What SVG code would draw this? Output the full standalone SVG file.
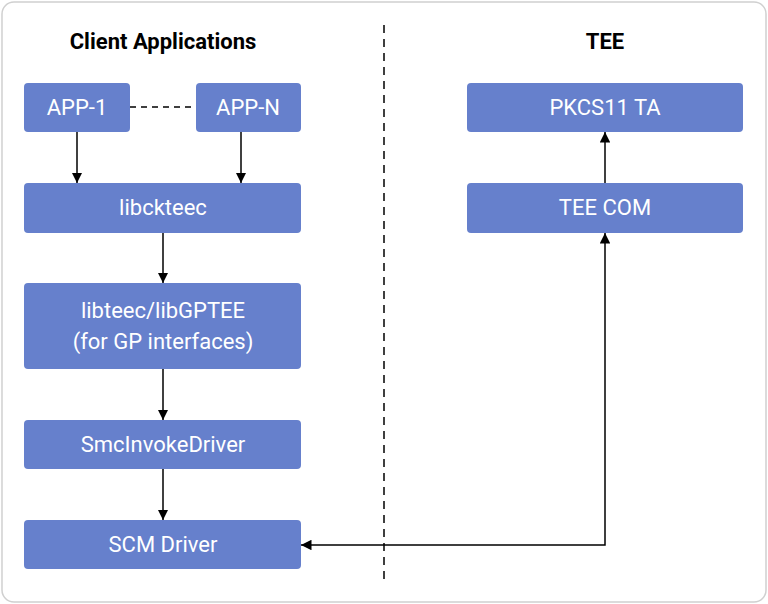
<svg xmlns="http://www.w3.org/2000/svg" width="768" height="604" viewBox="0 0 768 604">
<style>
.n{fill:#6680cc;}
.t{font-family:Roboto,"Liberation Sans",sans-serif;font-size:22px;fill:#fff;text-anchor:middle;}
.h{font-family:Roboto,"Liberation Sans",sans-serif;font-size:22px;font-weight:bold;fill:#000;text-anchor:middle;}
.c{stroke:#000;stroke-width:1.5;fill:none;}
</style>
<defs><marker id="a" viewBox="0 0 10 10" refX="10" refY="5" markerWidth="7" markerHeight="7" orient="auto-start-reverse"><path d="M0,0L10,5L0,10z" fill="#000"/></marker></defs>
<rect x="2" y="2" width="764" height="600" rx="12" fill="#fff" stroke="#d0d0d0" stroke-width="1.5"/>
<text class="h" x="163" y="49">Client Applications</text>
<text class="h" x="605" y="49">TEE</text>
<line x1="384" y1="25" x2="384" y2="580" stroke="#000" stroke-width="1.5" stroke-dasharray="8,6"/>
<g id="connectors">
<line class="c" x1="130" y1="107" x2="196" y2="107" stroke-dasharray="6,5"/>
<line class="c" x1="77" y1="132" x2="77" y2="183" marker-end="url(#a)"/>
<line class="c" x1="241" y1="132" x2="241" y2="183" marker-end="url(#a)"/>
<line class="c" x1="163" y1="233" x2="163" y2="283" marker-end="url(#a)"/>
<line class="c" x1="163" y1="369" x2="163" y2="420" marker-end="url(#a)"/>
<line class="c" x1="163" y1="469" x2="163" y2="520" marker-end="url(#a)"/>
<line class="c" x1="605" y1="183" x2="605" y2="132" marker-end="url(#a)"/>
<polyline class="c" points="301,545 605,545 605,233" marker-start="url(#a)" marker-end="url(#a)"/>
</g>
<g id="app1"><rect class="n" x="24" y="83" width="106" height="49" rx="4"/><text class="t" x="77" y="115">APP-1</text></g>
<g id="appn"><rect class="n" x="196" y="83" width="105" height="49" rx="4"/><text class="t" x="248" y="115">APP-N</text></g>
<g id="libckteec"><rect class="n" x="24" y="183" width="277" height="50" rx="4"/><text class="t" x="163" y="215">libckteec</text></g>
<g id="libteec"><rect class="n" x="24" y="283" width="277" height="86" rx="4"/><text class="t" x="163" y="318">libteec/libGPTEE</text><text class="t" x="163" y="349">(for GP interfaces)</text></g>
<g id="smc"><rect class="n" x="24" y="420" width="277" height="49" rx="4"/><text class="t" x="163" y="452">SmcInvokeDriver</text></g>
<g id="scm"><rect class="n" x="24" y="520" width="277" height="49" rx="4"/><text class="t" x="163" y="552">SCM Driver</text></g>
<g id="pkcs"><rect class="n" x="467" y="83" width="276" height="49" rx="4"/><text class="t" x="605" y="115">PKCS11 TA</text></g>
<g id="teecom"><rect class="n" x="467" y="183" width="276" height="50" rx="4"/><text class="t" x="605" y="215">TEE COM</text></g>
</svg>
